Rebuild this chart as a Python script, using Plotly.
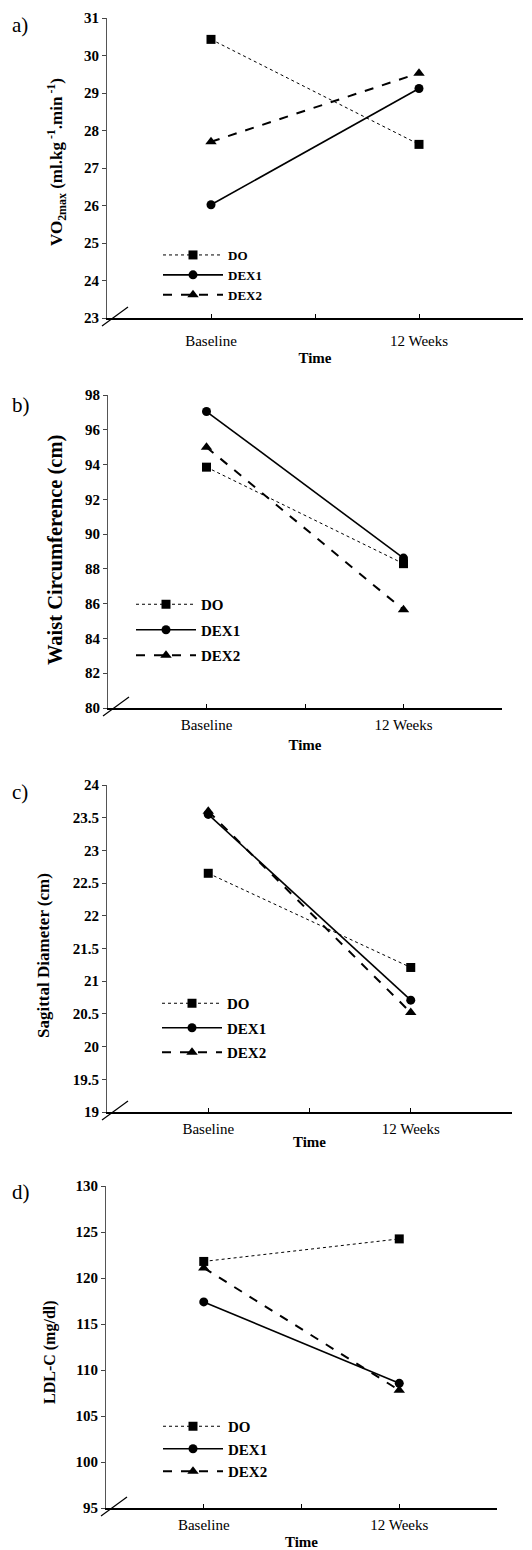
import plotly.graph_objects as go

categories = ["Baseline", "12 Weeks"]
series_names = ["DO", "DEX1", "DEX2"]

vo2_DO = [30.43, 27.63]
vo2_DEX1 = [26.02, 29.12]
vo2_DEX2 = [27.7, 29.53]

waist_DO = [93.85, 88.3]
waist_DEX1 = [97.05, 88.62]
waist_DEX2 = [95.0, 85.65]

sag_DO = [22.65, 21.21]
sag_DEX1 = [23.55, 20.71]
sag_DEX2 = [23.6, 20.52]

ldl_DO = [121.8, 124.25]
ldl_DEX1 = [117.4, 108.55]
ldl_DEX2 = [121.1, 107.8]

W, H = 532, 1550
FONT = "Liberation Serif"

# panel geometry in pixels: (x_left, x_right, y_top, y_bottom)
panels = [
    dict(px=(107, 523, 18, 318), rng=(23, 31), dt=1, data=[vo2_DO, vo2_DEX1, vo2_DEX2],
         title="VO<sub>2max</sub> (ml.kg<sup> -1</sup>.min<sup> -1</sup>)", tsize=17, tx=57, tyc=162,
         label="a)", ly=25, leg=(158, 240, 0), lsize=13, cat_stand=8, time_stand=4),
    dict(px=(108, 502, 395, 708), rng=(80, 98), dt=2, data=[waist_DO, waist_DEX1, waist_DEX2],
         title="Waist Circumference (cm)", tsize=20.5, tx=55, tyc=550,
         label="b)", ly=405, leg=(131, 588, 3), lsize=15, cat_stand=2, time_stand=7),
    dict(px=(107, 512, 785, 1112), rng=(19, 24), dt=0.5, data=[sag_DO, sag_DEX1, sag_DEX2],
         title="Sagittal Diameter (cm)", tsize=17, tx=43, tyc=956,
         label="c)", ly=792, leg=(157, 987, 2), lsize=15, cat_stand=2, time_stand=0),
    dict(px=(106, 497, 1186, 1508), rng=(95, 130), dt=5, data=[ldl_DO, ldl_DEX1, ldl_DEX2],
         title="LDL-C (mg/dl)", tsize=16, tx=50, tyc=1352,
         label="d)", ly=1192, leg=(158, 1410, 0), lsize=15, cat_stand=2, time_stand=5),
]

styles = [
    dict(line=dict(color="black", width=1, dash="dot"), marker=dict(symbol="square", size=9, color="black")),
    dict(line=dict(color="black", width=1.6, dash="solid"), marker=dict(symbol="circle", size=9, color="black")),
    dict(line=dict(color="black", width=2, dash="dash"), marker=dict(symbol="triangle-up", size=10, color="black")),
]

fig = go.Figure()
xs = list(range(len(categories)))
annotations = []
shapes = []

for i, p in enumerate(panels):
    n = "" if i == 0 else str(i + 1)
    xa, ya = "x" + n, "y" + n
    legname = "legend" if i == 0 else "legend" + str(i + 1)
    x0, x1, y0, y1 = p["px"]
    for j, (name, vals) in enumerate(zip(series_names, p["data"])):
        fig.add_trace(go.Scatter(
            x=xs, y=vals, name=name, mode="lines+markers",
            line=styles[j]["line"], marker=styles[j]["marker"],
            xaxis=xa, yaxis=ya, legend=legname, legendgroup=f"{i}_{j}",
            showlegend=True,
        ))
    xdom = [x0 / W, x1 / W]
    ydom = [1 - y1 / H, 1 - y0 / H]
    lo, hi = p["rng"]
    ticks = []
    v = lo
    while v <= hi + 1e-9:
        ticks.append(round(v, 2))
        v += p["dt"]
    fig.update_layout(**{
        ("xaxis" + n): dict(
            domain=xdom, anchor=ya, range=[-0.5, len(categories) - 0.5], automargin=False,
            tickmode="array", tickvals=[0, 0.5, 1], ticktext=[categories[0], "", categories[1]],
            ticks="inside", ticklen=4, tickwidth=1, tickcolor="black",
            showline=True, linecolor="black", linewidth=2, showgrid=False, zeroline=False,
            tickfont=dict(family=FONT, size=15, color="black"),
            title=dict(text="Time", font=dict(family=FONT, size=15, color="black", weight="bold"),
                       standoff=p["time_stand"]),
            ticklabelstandoff=p["cat_stand"],
        ),
        ("yaxis" + n): dict(
            domain=ydom, anchor=xa, range=[lo, hi], automargin=False,
            tickmode="array", tickvals=ticks,
            ticktext=[f"{t:g}" for t in ticks],
            ticks="outside", ticklen=4, tickwidth=1, tickcolor="#444",
            showline=True, linecolor="#555", linewidth=1, showgrid=False, zeroline=False,
            tickfont=dict(family=FONT, size=15, color="black", weight="bold"),
        ),
        legname: dict(
            x=p["leg"][0] / W, y=1 - p["leg"][1] / H, xanchor="left", yanchor="top",
            bgcolor="rgba(0,0,0,0)",
            font=dict(family=FONT, size=p["lsize"], color="black", weight="bold"),
            itemwidth=60, tracegroupgap=p["leg"][2], traceorder="grouped",
        ),
    })
    # y-axis title
    annotations.append(dict(
        text=p["title"], xref="paper", yref="paper",
        x=p["tx"] / W, y=1 - p["tyc"] / H, textangle=-90, showarrow=False,
        font=dict(family=FONT, size=p["tsize"], color="black", weight="bold"),
        xanchor="center", yanchor="middle",
    ))
    # panel label
    annotations.append(dict(
        text=p["label"], xref="paper", yref="paper", x=10 / W, y=1 - p["ly"] / H,
        showarrow=False, font=dict(family=FONT, size=21, color="black"),
        xanchor="left", yanchor="middle",
    ))
    # axis break mark
    shapes.append(dict(
        type="line", xref="paper", yref="paper",
        x0=(x0 - 5) / W, y0=1 - (y1 + 8) / H, x1=(x0 + 21) / W, y1=1 - (y1 - 11) / H,
        line=dict(color="black", width=1.2),
    ))

fig.update_layout(
    width=W, height=H, margin=dict(l=0, r=0, t=0, b=0, autoexpand=False),
    paper_bgcolor="white", plot_bgcolor="white",
    annotations=annotations, shapes=shapes,
    font=dict(family=FONT, color="black"),
)

fig.write_html("out.html", config={"displayModeBar": False},
               post_script="document.body.style.margin='0';document.body.style.overflow='hidden';")
